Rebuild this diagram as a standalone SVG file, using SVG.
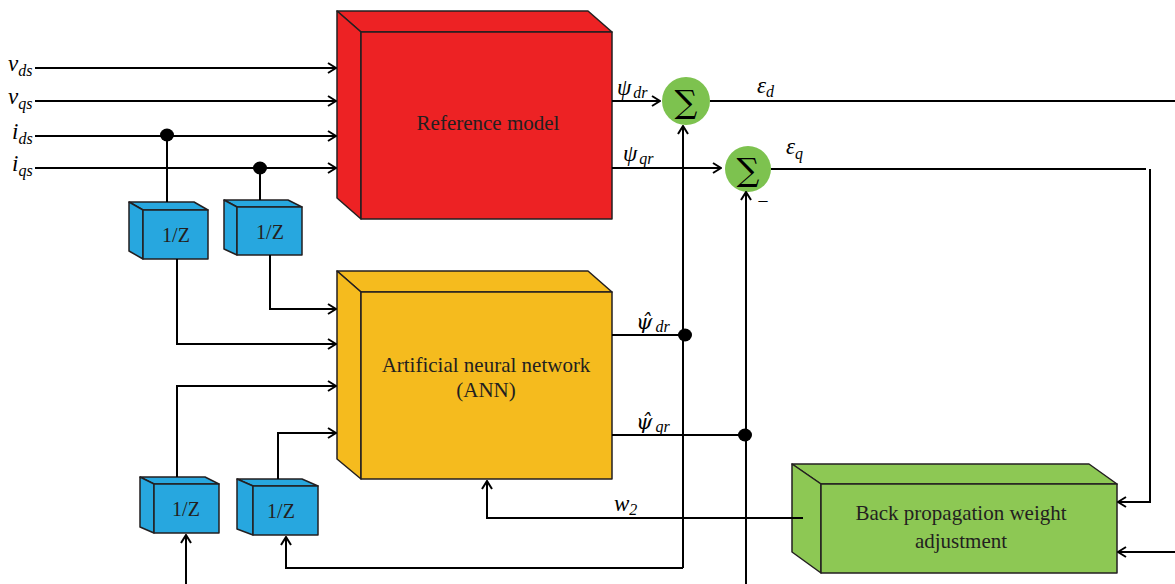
<svg xmlns="http://www.w3.org/2000/svg" width="1175" height="584" viewBox="0 0 1175 584">
<style>
.ln{fill:none;stroke:#000;stroke-width:2}
.ar{fill:none;stroke:#000;stroke-width:2;marker-end:url(#ah)}
.bx{stroke:#231f20;stroke-width:1.5;stroke-linejoin:round}
.lbl{font-family:"Liberation Serif","DejaVu Serif",serif;fill:#231f20}
.var{font-family:"Liberation Serif","DejaVu Serif",serif;font-style:italic;font-size:23px;fill:#000}
.sub{font-size:16px}
.hv{font-family:"DejaVu Serif",serif;font-size:21px}
.dot{fill:#000}
</style>
<defs>
<marker id="ah" viewBox="0 0 10 12" markerWidth="10" markerHeight="12" refX="9" refY="6" orient="auto" markerUnits="userSpaceOnUse">
<path d="M1,1 L9,6 L1,11" fill="none" stroke="#000" stroke-width="2"/>
</marker>
</defs>

<g id="reference-model">
<polygon class="bx" fill="#ed2224" points="337,11 588,11 612,32 361,32"/>
<polygon class="bx" fill="#ed2224" points="337,11 361,32 361,219 337,198"/>
<rect class="bx" fill="#ed2224" x="361" y="32" width="251" height="187"/>
<text class="lbl" x="488" y="130" font-size="21" text-anchor="middle">Reference model</text>
</g>

<g id="ann">
<polygon class="bx" fill="#f5bb1e" points="337,271 588,271 612,292 361,292"/>
<polygon class="bx" fill="#f5bb1e" points="337,271 361,292 361,479 337,459"/>
<rect class="bx" fill="#f5bb1e" x="361" y="292" width="251" height="187"/>
<text class="lbl" x="486" y="372" font-size="21" text-anchor="middle">Artificial neural network</text>
<text class="lbl" x="486" y="397" font-size="21" text-anchor="middle">(ANN)</text>
</g>

<g id="bpwa">
<polygon class="bx" fill="#8dc854" points="792,464 1089,464 1117,484 821,484"/>
<polygon class="bx" fill="#8dc854" points="792,464 821,484 821,573 792,552"/>
<rect class="bx" fill="#8dc854" x="821" y="484" width="296" height="89"/>
<text class="lbl" x="961" y="520" font-size="21" text-anchor="middle">Back propagation weight</text>
<text class="lbl" x="961" y="548" font-size="21" text-anchor="middle">adjustment</text>
</g>

<g id="delay1">
<polygon class="bx" fill="#27a7df" points="129,202 194,202 208,210 143,210"/>
<polygon class="bx" fill="#27a7df" points="129,202 143,210 143,259 129,251"/>
<rect class="bx" fill="#27a7df" x="143" y="210" width="65" height="49"/>
<text class="lbl" x="176" y="242" font-size="20" text-anchor="middle">1/Z</text>
</g>
<g id="delay2">
<polygon class="bx" fill="#27a7df" points="224,200 288,200 302,207 237,207"/>
<polygon class="bx" fill="#27a7df" points="224,200 237,207 237,255 224,249"/>
<rect class="bx" fill="#27a7df" x="237" y="207" width="65" height="48"/>
<text class="lbl" x="270" y="239" font-size="20" text-anchor="middle">1/Z</text>
</g>
<g id="delay3">
<polygon class="bx" fill="#27a7df" points="140,477 205,477 219,484 154,484"/>
<polygon class="bx" fill="#27a7df" points="140,477 154,484 154,533 140,527"/>
<rect class="bx" fill="#27a7df" x="154" y="484" width="65" height="49"/>
<text class="lbl" x="186" y="516" font-size="20" text-anchor="middle">1/Z</text>
</g>
<g id="delay4">
<polygon class="bx" fill="#27a7df" points="237,479 302,479 318,486 253,486"/>
<polygon class="bx" fill="#27a7df" points="237,479 253,486 253,535 237,529"/>
<rect class="bx" fill="#27a7df" x="253" y="486" width="65" height="49"/>
<text class="lbl" x="281" y="518" font-size="20" text-anchor="middle">1/Z</text>
</g>

<g id="sum1">
<circle cx="686" cy="101" r="24" fill="#7dc24f"/>
<text x="686" y="113" font-family="'DejaVu Serif','Liberation Serif',serif" font-size="32" text-anchor="middle" fill="#000">∑</text>
</g>
<g id="sum2">
<circle cx="748" cy="169" r="23" fill="#7dc24f"/>
<text x="748" y="181" font-family="'DejaVu Serif','Liberation Serif',serif" font-size="32" text-anchor="middle" fill="#000">∑</text>
<text x="763" y="206" font-family="'Liberation Serif',serif" font-size="18" text-anchor="middle" fill="#000">–</text>
</g>

<g id="connectors">
<path class="ar" d="M35,68 H336"/>
<path class="ar" d="M35,101 H336"/>
<path class="ar" d="M35,136 H336"/>
<path class="ar" d="M35,168 H336"/>
<path class="ln" d="M167,136 V202"/>
<path class="ln" d="M260,168 V200"/>
<path class="ar" d="M270,255 V309 H336"/>
<path class="ar" d="M177,259 V344 H336"/>
<path class="ar" d="M177,477 V386 H336"/>
<path class="ar" d="M278,479 V433 H336"/>
<path class="ar" d="M612,101 H660"/>
<path class="ar" d="M612,168 H721"/>
<path class="ln" d="M710,101 H1175"/>
<path class="ln" d="M771,169 H1146"/>
<path class="ar" d="M1150,169 V502 H1118"/>
<path class="ar" d="M1175,552 H1118"/>
<path class="ln" d="M612,335 H685"/>
<path class="ln" d="M612,435 H746"/>
<path class="ar" d="M683,568 V126"/>
<path class="ar" d="M746,584 V192"/>
<path class="ar" d="M683,568 H286 V537"/>
<path class="ar" d="M186,584 V535"/>
<path class="ar" d="M803,518 H487 V481"/>
<ellipse class="dot" cx="167" cy="135" rx="7" ry="6.5"/>
<ellipse class="dot" cx="260" cy="168" rx="7" ry="6.5"/>
<ellipse class="dot" cx="685" cy="335" rx="7" ry="6.5"/>
<ellipse class="dot" cx="745" cy="435" rx="7" ry="6.5"/>
</g>

<g id="labels">
<text class="var" x="8" y="71">v<tspan class="sub" dy="5">ds</tspan></text>
<text class="var" x="8" y="104">v<tspan class="sub" dy="5">qs</tspan></text>
<text class="var" x="12" y="139">i<tspan class="sub" dy="5">ds</tspan></text>
<text class="var" x="12" y="171">i<tspan class="sub" dy="5">qs</tspan></text>
<text class="var" x="617" y="95">ψ<tspan class="sub" dx="2" dy="3">dr</tspan></text>
<text class="var" x="623" y="161">ψ<tspan class="sub" dx="2" dy="3">qr</tspan></text>
<text class="var" x="757" y="93">ε<tspan class="sub" dy="4">d</tspan></text>
<text class="var" x="786" y="154">ε<tspan class="sub" dy="5">q</tspan></text>
<text class="var" x="636" y="329"><tspan class="hv">ψ̂</tspan><tspan class="sub" dx="3" dy="3">dr</tspan></text>
<text class="var" x="636" y="429"><tspan class="hv">ψ̂</tspan><tspan class="sub" dx="3" dy="3">qr</tspan></text>
<text class="var" x="614" y="511">w<tspan class="sub" dy="4">2</tspan></text>
</g>
</svg>
